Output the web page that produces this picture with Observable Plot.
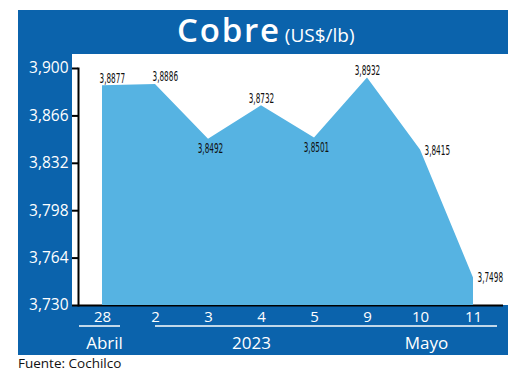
<!DOCTYPE html>
<html><head><meta charset="utf-8">
<script src="https://cdn.jsdelivr.net/npm/d3@7"></script>
<script src="https://cdn.jsdelivr.net/npm/@observablehq/plot@0.6"></script>
<style>
body{margin:0;background:#fff;}
#wrap{position:relative;width:520px;height:376px;overflow:hidden;font-family:"Open Sans",sans-serif;}
#blue{position:absolute;left:18px;top:10px;width:490px;height:345px;background:#0b63ac;}
#panel{position:absolute;left:72px;top:54px;width:436px;height:251px;background:#fff;}
#title{position:absolute;left:177px;top:10px;color:#fff;white-space:nowrap;line-height:40px;}
#title .main{font-size:33px;letter-spacing:1.8px;font-weight:600;}
#title .unit{font-size:19px;margin-left:4px;}
#chart{position:absolute;left:18px;top:54px;}
#src{position:absolute;left:18px;top:354px;font-size:13.5px;color:#111;}
</style></head>
<body>
<div id="wrap">
  <div id="blue"></div>
  <div id="panel"></div>
  <div id="title"><span class="main">Cobre</span><span class="unit">(US$/lb)</span></div>
  <div id="chart"></div>
  <div id="src">Fuente: Cochilco</div>
</div>
<script>
const dates = ["28", "2", "3", "4", "5", "9", "10", "11"];
const values = [3.8877, 3.8886, 3.8492, 3.8732, 3.8501, 3.8932, 3.8415, 3.7498];
const yTicks = [3.730, 3.764, 3.798, 3.832, 3.866, 3.900];
const monthLabels = ["Abril", "2023", "Mayo"];
const monthAt = ["28", "4", "10"];
const groupFrom = ["28", "2"];
const groupTo = ["28", "11"];

const table = dates.map((d, i) => ({date: d, value: values[i]}));
const fmt3 = v => v.toFixed(3).replace(".", ",");
const fmt4 = v => v.toFixed(4).replace(".", ",");
const lblFont = {fontFamily: "'DejaVu Sans Condensed','Liberation Sans Narrow',sans-serif", fontSize: 14, fill: "#111", className: "lbl"};
const pick = idx => (d, i) => idx.includes(i);

const chart = Plot.plot({
  width: 490, height: 301,
  marginLeft: 60, marginRight: 5, marginTop: 14, marginBottom: 50,
  style: {background: "transparent", fontFamily: "'Open Sans',sans-serif", overflow: "visible"},
  x: {type: "point", domain: dates, insetLeft: 22, insetRight: 28, padding: 0},
  y: {domain: [yTicks[0], yTicks[yTicks.length - 1]]},
  marks: [
    Plot.frame({anchor: "left", stroke: "#000", strokeWidth: 2}),
    Plot.ruleY([yTicks[0]], {stroke: "#000", strokeWidth: 2}),
    Plot.axisY({ticks: yTicks, tickFormat: fmt3, tickSize: 6, tickPadding: 4, stroke: "#000", strokeWidth: 2, color: "#fff", fontSize: 15.5, label: null}),
    Plot.areaY(table, {x: "date", y: "value", fill: "#56b3e2", clip: true}),
    Plot.axisX({tickSize: 0, tickPadding: 6, color: "#fff", fontSize: 15, label: null}),
    Plot.text(table, {filter: pick([0, 1]), x: "date", y: "value", text: d => fmt4(d.value), textAnchor: "start", lineAnchor: "bottom", dx: -3, dy: -3, ...lblFont}),
    Plot.text(table, {filter: pick([3, 5]), x: "date", y: "value", text: d => fmt4(d.value), textAnchor: "middle", lineAnchor: "bottom", dy: -3, ...lblFont}),
    Plot.text(table, {filter: pick([2, 4]), x: "date", y: "value", text: d => fmt4(d.value), textAnchor: "middle", lineAnchor: "top", dx: 2, dy: 4, ...lblFont}),
    Plot.text(table, {filter: pick([6, 7]), x: "date", y: "value", text: d => fmt4(d.value), textAnchor: "start", lineAnchor: "middle", dx: 4, ...lblFont}),
    ...monthLabels.map((m, i) => Plot.text([m], {x: () => monthAt[i], text: d => d, frameAnchor: "bottom", lineAnchor: "middle", dy: 38, dx: [2, -10, 6][i], fill: "#fff", fontSize: 17}))
  ]
});

const svg = d3.select(chart);
// condensed look for the value labels: squeeze each label horizontally about its anchor
svg.selectAll(".lbl text").attr("transform", function () {
  return (this.getAttribute("transform") || "") + " scale(0.58,1)";
});

// underlines grouping the day labels by month, positioned with the plot's x scale
const sx = chart.scale("x");
const yLine = 301 - 50 + 21;
groupFrom.forEach((f, i) => {
  const ext = [[-23, 18], [0, 24]][i];
  svg.append("line")
    .attr("x1", sx.apply(f) + ext[0]).attr("x2", sx.apply(groupTo[i]) + ext[1])
    .attr("y1", yLine).attr("y2", yLine)
    .attr("stroke", "#fff").attr("stroke-width", 1.3);
});
document.getElementById("chart").appendChild(chart);
</script>
</body></html>
